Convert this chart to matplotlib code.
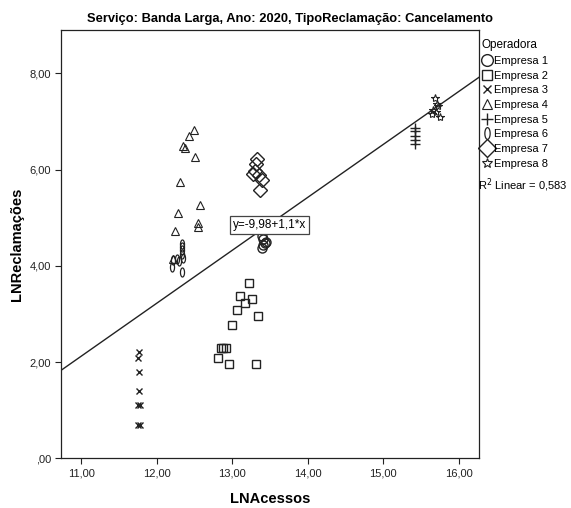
import matplotlib
matplotlib.use("Agg")
import matplotlib.pyplot as plt
import numpy as np
from matplotlib.path import Path
from matplotlib.ticker import FuncFormatter, MultipleLocator

plt.rcParams["font.family"] = ["Liberation Sans", "DejaVu Sans"]

# LNAcessos / LNReclamacoes per operadora
emp1_x = [13.41, 13.45, 13.41, 13.39, 13.43, 13.40]
emp1_y = [4.56, 4.49, 4.43, 4.38, 4.47, 4.62]
emp2_x = [13.22, 13.11, 13.27, 13.17, 13.06, 13.34, 13.00, 12.85, 12.88, 12.92, 12.81, 12.96, 13.31]
emp2_y = [3.64, 3.37, 3.30, 3.22, 3.09, 2.95, 2.77, 2.30, 2.30, 2.30, 2.08, 1.95, 1.95]
emp3_x = [11.77, 11.75, 11.77, 11.77, 11.75, 11.78, 11.75, 11.78]
emp3_y = [2.20, 2.08, 1.79, 1.39, 1.10, 1.10, 0.69, 0.69]
emp4_x = [12.49, 12.43, 12.35, 12.38, 12.51, 12.31, 12.58, 12.28, 12.55, 12.55, 12.25, 12.22]
emp4_y = [6.83, 6.69, 6.48, 6.45, 6.26, 5.75, 5.27, 5.10, 4.88, 4.80, 4.72, 4.15]
emp5_x = [15.42, 15.42, 15.42, 15.42, 15.42]
emp5_y = [6.86, 6.80, 6.70, 6.62, 6.54]
emp6_x = [12.33, 12.33, 12.34, 12.33, 12.35, 12.27, 12.22, 12.30, 12.21, 12.33]
emp6_y = [4.45, 4.40, 4.33, 4.25, 4.17, 4.15, 4.13, 4.10, 3.98, 3.87]
emp7_x = [13.33, 13.32, 13.30, 13.28, 13.35, 13.39, 13.37]
emp7_y = [6.22, 6.12, 5.98, 5.91, 5.88, 5.78, 5.57]
emp8_x = [15.69, 15.71, 15.66, 15.73, 15.75, 15.70, 15.65]
emp8_y = [7.49, 7.37, 7.23, 7.31, 7.10, 7.19, 7.16]

operadoras = ["Empresa 1", "Empresa 2", "Empresa 3", "Empresa 4",
              "Empresa 5", "Empresa 6", "Empresa 7", "Empresa 8"]

fit_intercept = -9.98
fit_slope = 1.1
r2 = 0.583

# narrow ellipse marker (looks like a "0")
theta = np.linspace(0, 2 * np.pi, 60)
ellipse = Path(np.column_stack([0.45 * np.cos(theta), np.sin(theta)]), closed=True)

styles = [
    ("o", 6.5, 1.0),
    ("s", 6.0, 1.0),
    ("x", 4.5, 1.0),
    ("^", 5.5, 0.8),
    ("+", 6.5, 1.0),
    (ellipse, 6.5, 0.9),
    ("D", 7.0, 1.0),
    ("*", 6.0, 0.8),
]
series = [(emp1_x, emp1_y), (emp2_x, emp2_y), (emp3_x, emp3_y), (emp4_x, emp4_y),
          (emp5_x, emp5_y), (emp6_x, emp6_y), (emp7_x, emp7_y), (emp8_x, emp8_y)]

fig = plt.figure(figsize=(5.71, 5.08), dpi=100)
ax = fig.add_axes([0.1063, 0.0978, 0.7326, 0.8432])

for (xs, ys), (mk, ms, lw), name in zip(series, styles, operadoras):
    ax.plot(xs, ys, linestyle="none", marker=mk, markersize=ms,
            markerfacecolor="none", markeredgecolor="#222222",
            markeredgewidth=lw, label=name)

ax.set_xlim(10.73, 16.27)
ax.set_ylim(0, 8.9)

# regression line
lx = np.array(ax.get_xlim())
ax.plot(lx, fit_intercept + fit_slope * lx, color="#222222", linewidth=1.0)
ax.text(13.49, 4.84, "y=-9,98+1,1*x", ha="center", va="center", fontsize=8.5,
        bbox=dict(boxstyle="square,pad=0.25", facecolor="white",
                  edgecolor="#444444", linewidth=0.9))


def comma_fmt(v, pos):
    s = f"{v:.2f}".replace(".", ",")
    if s.startswith("0,"):
        s = s[1:]
    return s


ax.xaxis.set_major_locator(MultipleLocator(1))
ax.yaxis.set_major_locator(MultipleLocator(2))
ax.xaxis.set_major_formatter(FuncFormatter(comma_fmt))
ax.yaxis.set_major_formatter(FuncFormatter(comma_fmt))
ax.tick_params(direction="out", length=4, width=0.8, labelsize=8,
               colors="#222222", pad=3)
for sp in ax.spines.values():
    sp.set_color("#222222")
    sp.set_linewidth(0.9)

ax.set_xlabel("LNAcessos", fontsize=10.5, fontweight="bold", labelpad=10)
ax.set_ylabel("LNReclamações", fontsize=10.5, fontweight="bold", labelpad=4)

fig.text(0.508, 0.962, "Serviço: Banda Larga, Ano: 2020, TipoReclamação: Cancelamento",
         ha="center", va="center", fontsize=9.3, fontweight="bold")

leg = fig.legend(loc="upper left", bbox_to_anchor=(0.842, 0.925), frameon=False,
                 title="Operadora", fontsize=8, title_fontsize=8.5,
                 handlelength=0.9, handletextpad=0.15, labelspacing=0.42,
                 borderaxespad=0, borderpad=0.1, markerscale=1.3)
leg._legend_box.align = "left"

fig.text(0.838, 0.635, f"R$^2$ Linear = {r2:.3f}".replace(".", ","),
         ha="left", va="center", fontsize=8)

fig.savefig("out.png", dpi=100)
